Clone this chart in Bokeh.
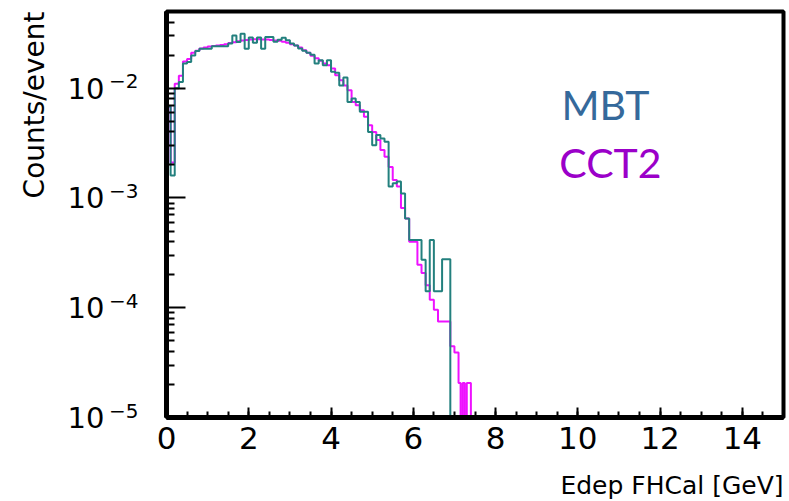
import numpy as np
from bokeh.plotting import figure
from bokeh.models import (Range1d, FixedTicker, CustomJSTickFormatter, Label, Title, LogAxis)
from bokeh.embed import file_html
from bokeh.resources import INLINE

# ---------------- data ----------------
# bin edges: 0.1 GeV bins up to 7.1 GeV, then 0.05 GeV bins for the sparse tail
main_edges = np.round(np.arange(0.0, 7.1001, 0.1), 3)
tail_edges = np.round(np.arange(7.15, 7.4001, 0.05), 3)
bin_edges = np.concatenate([main_edges, tail_edges])

# Counts/event, MBT (teal)
mbt = [
    6.8e-3, 1.6e-3, 1.0e-2, 1.14e-2, 1.68e-2, 1.73e-2, 1.99e-2, 2.18e-2, 2.29e-2, 2.29e-2,
    2.29e-2, 2.41e-2, 2.41e-2, 2.41e-2, 2.41e-2, 2.55e-2, 3.03e-2, 2.63e-2, 3.14e-2, 2.29e-2,
    2.9e-2, 2.6e-2, 2.9e-2, 2.29e-2, 2.93e-2, 2.93e-2, 2.65e-2, 2.77e-2, 2.89e-2, 2.73e-2,
    2.55e-2, 2.45e-2, 2.3e-2, 2.2e-2, 2.1e-2, 2.02e-2, 1.68e-2, 1.8e-2, 1.62e-2, 1.8e-2,
    1.41e-2, 1.38e-2, 1.06e-2, 1.25e-2, 7.5e-3, 8.06e-3, 7.5e-3, 6.1e-3, 6.1e-3, 4.0e-3,
    3.03e-3, 3.74e-3, 3.49e-3, 3.25e-3, 1.27e-3, 1.36e-3, 1.41e-3, 1.1e-3, 6.5e-4, 4.15e-4,
    4.15e-4, 4.15e-4, 2.73e-4, 1.41e-4, 4.15e-4, 1.41e-4, 1.41e-4, 2.77e-4, 2.77e-4, 0.0,
    0.0,
    0.0, 0.0, 0.0, 0.0, 0.0, 0.0,
]

# Counts/event, CCT2 (magenta)
cct2 = [
    6.8e-3, 2.1e-3, 1.1e-2, 1.3e-2, 1.75e-2, 1.85e-2, 2.1e-2, 2.2e-2, 2.3e-2, 2.35e-2,
    2.4e-2, 2.42e-2, 2.45e-2, 2.48e-2, 2.52e-2, 2.58e-2, 2.62e-2, 2.68e-2, 2.72e-2, 2.75e-2,
    2.78e-2, 2.8e-2, 2.8e-2, 2.78e-2, 2.78e-2, 2.75e-2, 2.72e-2, 2.7e-2, 2.65e-2, 2.6e-2,
    2.52e-2, 2.45e-2, 2.35e-2, 2.22e-2, 2.1e-2, 1.98e-2, 1.88e-2, 1.78e-2, 1.68e-2, 1.62e-2,
    1.51e-2, 1.31e-2, 1.18e-2, 1.06e-2, 9.6e-3, 7.5e-3, 7.0e-3, 6.3e-3, 5.5e-3, 4.6e-3,
    4.0e-3, 3.37e-3, 2.73e-3, 2.37e-3, 1.92e-3, 1.46e-3, 1.27e-3, 8.1e-4, 6.5e-4, 4.0e-4,
    4.0e-4, 2.46e-4, 2.07e-4, 1.6e-4, 1.18e-4, 9.6e-5, 7.5e-5, 7.5e-5, 7.5e-5, 4.46e-5,
    3.9e-5,
    2.06e-5, 0.0, 2.06e-5, 0.0, 2.06e-5, 2.06e-5,
]

x_ticks = [0, 2, 4, 6, 8, 10, 12, 14]
y_ticks = [1e-5, 1e-4, 1e-3, 1e-2]
series_names = ["MBT", "CCT2"]
x_title = "Edep FHCal [GeV]"
y_title = "Counts/event"

X_MIN, X_MAX = 0.0, 15.0
Y_MIN, Y_MAX = 1e-5, 0.05
ROOT_FONT = "DejaVu Sans"
PX_PER_DECADE = 110.0
EXP_RAISE_PX = 7.0   # superscript raise


def step_xy(edges, vals, floor, xmax):
    xs, ys = [edges[0]], [floor]
    for i, v in enumerate(vals):
        v = max(v, floor)
        xs += [edges[i], edges[i + 1]]
        ys += [v, v]
    xs += [edges[len(vals)], xmax]
    ys += [floor, floor]
    return xs, ys


p = figure(width=789, height=501, output_backend="svg", toolbar_location=None,
           x_range=Range1d(X_MIN, X_MAX), y_range=Range1d(Y_MIN, Y_MAX),
           y_axis_type="log",
           min_border_left=166, min_border_right=6, min_border_top=11,
           min_border_bottom=84)
p.background_fill_color = "white"
p.border_fill_color = "white"
p.outline_line_color = "black"
p.outline_line_width = 4
p.xgrid.visible = False
p.ygrid.visible = False

cx, cy = step_xy(bin_edges, cct2, Y_MIN, X_MAX)
p.line(cx, cy, line_color="#ee11ff", line_width=2)
mx, my = step_xy(bin_edges, mbt, Y_MIN, X_MAX)
p.line(mx, my, line_color="#23807e", line_width=2)

# x axis
xa = p.xaxis[0]
xa.ticker = FixedTicker(ticks=x_ticks, minor_ticks=[t * 0.5 for t in range(0, 31)])
xa.major_tick_in = 10
xa.major_tick_out = 0
xa.minor_tick_in = 6
xa.minor_tick_out = 0
xa.major_tick_line_width = 2
xa.minor_tick_line_width = 2
xa.axis_line_width = 5
xa.major_label_text_font = ROOT_FONT
xa.major_label_text_font_size = "31px"
xa.major_label_text_color = "black"
xa.major_label_standoff = 9
# thin spacer label pushes the title further down
xa.axis_label = " "
xa.axis_label_text_font_size = "12px"
xa.axis_label_standoff = 0

# y axis: inner axis draws the ticks only
ya = p.yaxis[0]
minor = [k * 10.0 ** e for e in range(-5, -1) for k in range(2, 10) if k * 10.0 ** e < Y_MAX]
ya.ticker = FixedTicker(ticks=y_ticks, minor_ticks=minor)
ya.formatter = CustomJSTickFormatter(code="return '';")
ya.major_tick_in = 19
ya.major_tick_out = 0
ya.minor_tick_in = 8
ya.minor_tick_out = 0
ya.major_tick_line_width = 2
ya.minor_tick_line_width = 2
ya.axis_line_width = 5
ya.major_label_standoff = 0

# exponent axis (superscript, raised a few pixels)
exp_ticks = [t * 10 ** (EXP_RAISE_PX / PX_PER_DECADE) for t in y_ticks]
ya_exp = LogAxis(ticker=FixedTicker(ticks=exp_ticks, minor_ticks=[]),
                 formatter=CustomJSTickFormatter(
                     code="return '\u2212' + Math.abs(Math.floor(Math.log10(tick)));"),
                 axis_line_color=None, major_tick_line_color=None,
                 minor_tick_line_color=None,
                 major_tick_in=0, major_tick_out=0, minor_tick_in=0, minor_tick_out=0,
                 major_label_standoff=28, major_label_text_font=ROOT_FONT,
                 major_label_text_font_size="20px", major_label_text_color="black")
p.add_layout(ya_exp, "left")

# mantissa axis "10"
ya_man = LogAxis(ticker=FixedTicker(ticks=y_ticks, minor_ticks=[]),
                 formatter=CustomJSTickFormatter(code="return '10';"),
                 axis_line_color=None, major_tick_line_color=None,
                 minor_tick_line_color=None,
                 major_tick_in=0, major_tick_out=0, minor_tick_in=0, minor_tick_out=0,
                 major_label_standoff=2, major_label_text_font=ROOT_FONT,
                 major_label_text_font_size="29px", major_label_text_color="black")
p.add_layout(ya_man, "left")

# axis titles
xt = Title(text=x_title, align="right", text_font=ROOT_FONT, standoff=0,
           text_font_size="25px", text_font_style="normal", text_color="black")
p.add_layout(xt, "below")
yt = Title(text=y_title, align="right", text_font=ROOT_FONT, standoff=27,
           text_font_size="28px", text_font_style="normal", text_color="black")
p.add_layout(yt, "left")

# series annotations
p.add_layout(Label(x=9.6, y=5.2e-3, y_offset=15, text=series_names[0], text_font="Lato",
                   text_baseline="alphabetic",
                   text_font_size="41px", text_color="#35699b"))
p.add_layout(Label(x=9.55, y=1.52e-3, y_offset=16, text=series_names[1], text_font="Lato",
                   text_baseline="alphabetic",
                   text_font_size="41px", text_color="#9b00c9"))

open("out.html", "w").write(file_html(p, INLINE))
